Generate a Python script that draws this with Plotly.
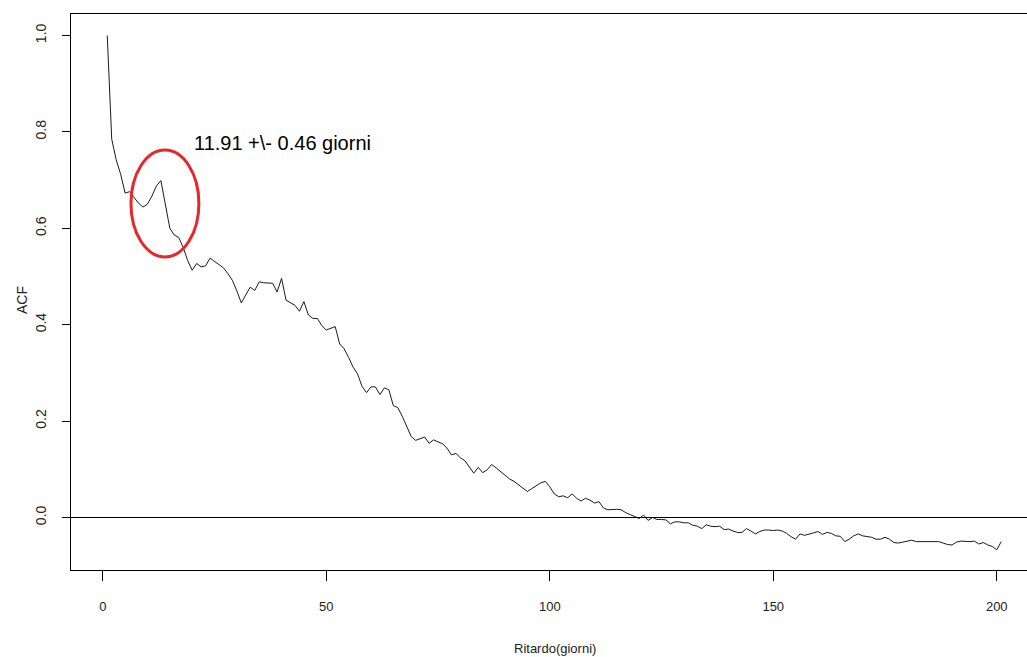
import plotly.graph_objects as go

lags = list(range(1, 202))
acf = [
    1.000, 0.785, 0.742, 0.712, 0.673, 0.676, 0.664, 0.652, 0.644, 0.650,
    0.667, 0.688, 0.699, 0.645, 0.600, 0.586, 0.581, 0.560, 0.533, 0.513,
    0.527, 0.520, 0.522, 0.538, 0.531, 0.524, 0.518, 0.506, 0.492, 0.470,
    0.445, 0.462, 0.478, 0.471, 0.489, 0.487, 0.486, 0.486, 0.468, 0.496,
    0.451, 0.446, 0.440, 0.428, 0.448, 0.420, 0.413, 0.413, 0.398, 0.389,
    0.392, 0.396, 0.360, 0.350, 0.332, 0.312, 0.298, 0.272, 0.259, 0.271,
    0.271, 0.255, 0.269, 0.265, 0.232, 0.228, 0.210, 0.190, 0.168, 0.160,
    0.163, 0.167, 0.154, 0.161, 0.157, 0.153, 0.144, 0.130, 0.133, 0.124,
    0.118, 0.106, 0.092, 0.104, 0.093, 0.099, 0.110, 0.103, 0.095, 0.087,
    0.080, 0.075, 0.068, 0.061, 0.054, 0.060, 0.066, 0.072, 0.075, 0.064,
    0.049, 0.043, 0.045, 0.041, 0.049, 0.040, 0.034, 0.040, 0.036, 0.030,
    0.033, 0.020, 0.016, 0.017, 0.017, 0.016, 0.010, 0.006, 0.002, -0.002,
    0.005, -0.006, 0.000, -0.004, -0.004, -0.005, -0.013, -0.009, -0.009, -0.011,
    -0.011, -0.016, -0.018, -0.023, -0.015, -0.018, -0.019, -0.018, -0.025, -0.024,
    -0.028, -0.031, -0.031, -0.023, -0.028, -0.034, -0.029, -0.026, -0.026, -0.027,
    -0.026, -0.028, -0.033, -0.040, -0.045, -0.034, -0.037, -0.035, -0.032, -0.029,
    -0.035, -0.031, -0.033, -0.038, -0.039, -0.050, -0.045, -0.038, -0.034, -0.038,
    -0.040, -0.041, -0.045, -0.045, -0.041, -0.045, -0.052, -0.053, -0.051, -0.049,
    -0.047, -0.050, -0.050, -0.049, -0.049, -0.050, -0.050, -0.053, -0.056, -0.057,
    -0.051, -0.049, -0.050, -0.050, -0.049, -0.055, -0.052, -0.057, -0.060, -0.067,
    -0.050,
]

x_ticks = [0, 50, 100, 150, 200]
x_tick_labels = ["0", "50", "100", "150", "200"]
y_ticks = [0.0, 0.2, 0.4, 0.6, 0.8, 1.0]
y_tick_labels = ["0.0", "0.2", "0.4", "0.6", "0.8", "1.0"]

annotation_text = "11.91 +\\- 0.46 giorni"
x_title = "Ritardo(giorni)"
y_title = "ACF"

SANS = "Liberation Sans, Arial, sans-serif"

W, H = 1027, 657
ML, MR, MT, MB = 71, 0, 14, 87
pw, ph = W - ML - MR, H - MT - MB

fig = go.Figure()
fig.add_trace(go.Scatter(x=lags, y=acf, mode="lines",
                         line=dict(color="#1a1a1a", width=1), showlegend=False,
                         hoverinfo="skip"))

# zero reference line
fig.add_shape(type="line", xref="paper", yref="y", x0=0, x1=1, y0=0, y1=0,
              line=dict(color="black", width=1.2))

# red ellipse around the peak
fig.add_shape(type="circle", xref="x", yref="y", x0=6.3, x1=21.5, y0=0.5405, y1=0.7624,
              line=dict(color="#e8262b", width=3))

fig.add_annotation(x=20.0, y=0.778, xref="x", yref="y", text=annotation_text,
                   showarrow=False, xanchor="left", yanchor="middle",
                   font=dict(family=SANS, size=20, color="black"))

fig.add_annotation(x=(555 - ML) / pw, y=(H - MB - 648) / ph, xref="paper", yref="paper",
                   text=x_title, showarrow=False, xanchor="center", yanchor="middle",
                   font=dict(family=SANS, size=13, color="#222"))

fig.add_annotation(x=(22 - ML) / pw, y=(H - MB - 300) / ph, xref="paper", yref="paper",
                   text=y_title, textangle=-90, showarrow=False,
                   xanchor="center", yanchor="middle",
                   font=dict(family=SANS, size=14, color="#222"))

fig.update_layout(
    width=W, height=H,
    margin=dict(l=ML, r=MR, t=MT, b=MB, autoexpand=False),
    paper_bgcolor="white", plot_bgcolor="white",
    xaxis=dict(range=[-7.11, 206.77], tickvals=x_ticks, ticktext=x_tick_labels,
               showgrid=False, zeroline=False, showline=True, mirror=True,
               linecolor="black", linewidth=1, ticks="outside", ticklen=10,
               tickcolor="black", tickwidth=1, automargin=False,
               ticklabelstandoff=14,
               tickfont=dict(family=SANS, size=13, color="#222")),
    yaxis=dict(range=[-0.1089, 1.0446], tickvals=y_ticks, ticktext=y_tick_labels,
               showgrid=False, zeroline=False, showline=True, mirror=False,
               linecolor="black", linewidth=1, ticks="outside", ticklen=8,
               tickcolor="black", tickwidth=1, automargin=False, tickangle=-90,
               ticklabelstandoff=10,
               tickfont=dict(family=SANS, size=14, color="#222")),
)

fig.write_html("out.html")
